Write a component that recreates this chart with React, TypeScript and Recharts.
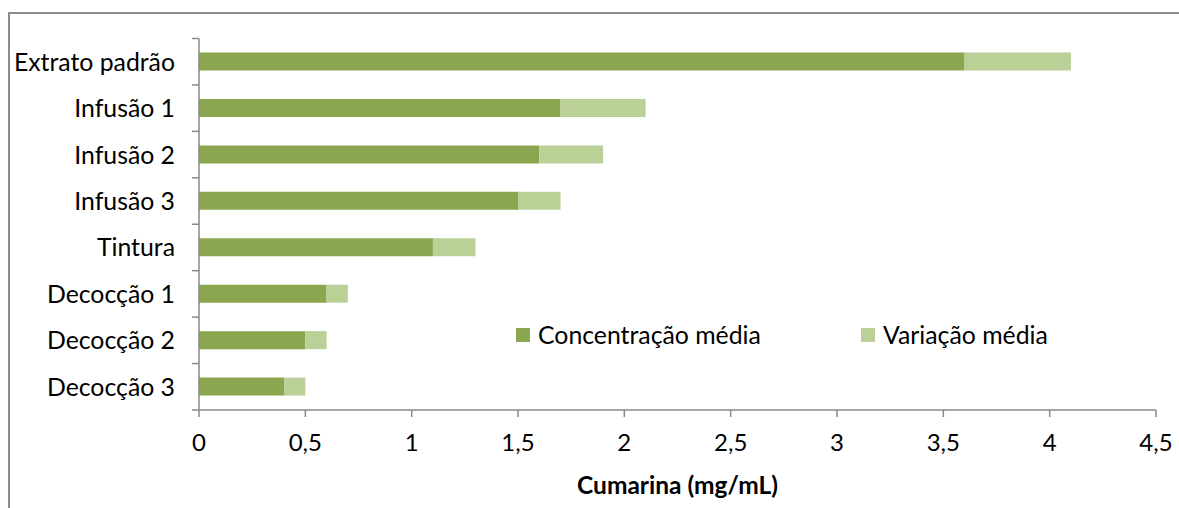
import { BarChart, Bar, XAxis, YAxis, Legend } from "recharts";

const categories = [
  "Extrato padrão",
  "Infusão 1",
  "Infusão 2",
  "Infusão 3",
  "Tintura",
  "Decocção 1",
  "Decocção 2",
  "Decocção 3",
];
const concentracaoMedia = [3.6, 1.7, 1.6, 1.5, 1.1, 0.6, 0.5, 0.4];
const variacaoMedia = [0.5, 0.4, 0.3, 0.2, 0.2, 0.1, 0.1, 0.1];
const xTicks = [0, 0.5, 1, 1.5, 2, 2.5, 3, 3.5, 4, 4.5];

const data = categories.map((name, i) => ({
  name,
  concentracao: concentracaoMedia[i],
  variacao: variacaoMedia[i],
}));

const DARK_GREEN = "#8aa64f";
const LIGHT_GREEN = "#bad097";
const AXIS = "#898989";
const FONT = "Lato, 'Open Sans', sans-serif";

const Y_TICK_SIZE = 7;
const Y_TICK_MARGIN = 17;

// category labels, with the tick marks drawn on the band boundaries like Excel
function CategoryTick(props: any) {
  const { x, y, payload, index, visibleTicksCount } = props;
  const half = payload?.offset || 23.25;
  const axisX = x + Y_TICK_SIZE + Y_TICK_MARGIN;
  return (
    <g>
      <line
        x1={axisX - Y_TICK_SIZE}
        x2={axisX}
        y1={y - half}
        y2={y - half}
        stroke={AXIS}
        strokeWidth={1.5}
      />
      {index === visibleTicksCount - 1 && (
        <line
          x1={axisX - Y_TICK_SIZE}
          x2={axisX}
          y1={y + half}
          y2={y + half}
          stroke={AXIS}
          strokeWidth={1.5}
        />
      )}
      <text
        x={x}
        y={y}
        dy="0.36em"
        textAnchor="end"
        fill="#000"
        fontSize={24.8}
        fontFamily={FONT}
      >
        {payload.value}
      </text>
    </g>
  );
}

function LegendContent({ payload }: any) {
  return (
    <div style={{ display: "flex", fontFamily: FONT, fontSize: 24.8, color: "#000" }}>
      {(payload || []).map((item: any) => (
        <div
          key={item.value}
          style={{ display: "flex", alignItems: "center", width: 345 }}
        >
          <span
            style={{
              display: "inline-block",
              width: 14,
              height: 14,
              background: item.color,
              marginRight: 8,
            }}
          />
          <span>{item.value}</span>
        </div>
      ))}
    </div>
  );
}

export default function App() {
  return (
    <div
      style={{
        position: "absolute",
        left: 0,
        top: 0,
        width: 1179,
        height: 508,
        overflow: "hidden",
        background: "#fff",
      }}
    >
      <div
        style={{
          position: "absolute",
          left: 8,
          top: 12,
          width: 1300,
          height: 700,
          borderLeft: "2px solid #8c8c8c",
          borderTop: "2px solid #8c8c8c",
        }}
      />
      <div style={{ position: "absolute", left: 0, top: 0 }}>
        <BarChart
          width={1179}
          height={508}
          data={data}
          layout="vertical"
          margin={{ top: 38.5, right: 23, left: 0, bottom: 0 }}
          barCategoryGap={0}
        >
          <XAxis
            type="number"
            domain={[0, 4.5]}
            ticks={xTicks}
            interval={0}
            allowDataOverflow
            tickFormatter={(v: number) => String(v).replace(".", ",")}
            tick={{ fill: "#000", fontSize: 24, fontFamily: FONT }}
            tickSize={7}
            tickMargin={17}
            stroke={AXIS}
            strokeWidth={1.5}
            height={98}
            label={{
              value: "Cumarina (mg/mL)",
              position: "insideBottom",
              offset: 14,
              style: {
                fill: "#000",
                fontSize: 24.5,
                fontWeight: 700,
                fontFamily: FONT,
              },
            }}
          />
          <YAxis
            type="category"
            dataKey="name"
            width={199}
            tickLine={false}
            tickSize={Y_TICK_SIZE}
            tickMargin={Y_TICK_MARGIN}
            interval={0}
            stroke={AXIS}
            strokeWidth={1.5}
            tick={<CategoryTick />}
          />
          <Legend
            layout="horizontal"
            align="center"
            verticalAlign="middle"
            content={<LegendContent />}
            wrapperStyle={{ position: "absolute", left: 516, top: 320, width: 700 }}
          />
          <Bar
            dataKey="concentracao"
            name="Concentração média"
            stackId="a"
            fill={DARK_GREEN}
            barSize={18}
            isAnimationActive={false}
          />
          <Bar
            dataKey="variacao"
            name="Variação média"
            stackId="a"
            fill={LIGHT_GREEN}
            barSize={18}
            isAnimationActive={false}
          />
        </BarChart>
      </div>
    </div>
  );
}
